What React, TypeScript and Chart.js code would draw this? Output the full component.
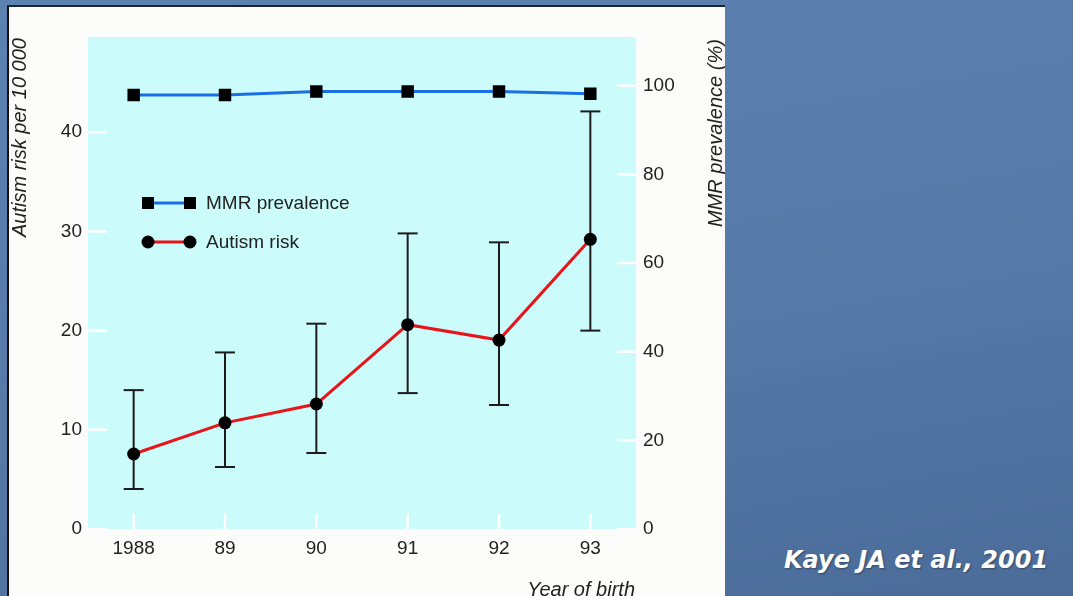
import React, { useEffect, useRef } from "react";
import { Chart, registerables } from "chart.js";

Chart.register(...registerables);

const years = ["1988", "89", "90", "91", "92", "93"];
const autismRisk = [7.56, 10.7, 12.6, 20.6, 19.05, 29.2];
const autismLower = [4.03, 6.25, 7.66, 13.7, 12.5, 20.0];
const autismUpper = [14.0, 17.8, 20.7, 29.8, 28.9, 42.1];
const mmrPrevalence = [97.9, 97.9, 98.7, 98.7, 98.7, 98.2];
const leftTicks = [0, 10, 20, 30, 40];
const rightTicks = [0, 20, 40, 60, 80, 100];

const FONT = "'Liberation Sans', Arial, Helvetica, sans-serif";
const TEXT = "#222222";

const decor = {
  id: "decor",
  beforeDatasetsDraw(chart: any) {
    const { ctx, chartArea: a, scales } = chart;
    const line = (x1: number, y1: number, x2: number, y2: number) => {
      ctx.beginPath();
      ctx.moveTo(x1, y1);
      ctx.lineTo(x2, y2);
      ctx.stroke();
    };
    ctx.save();
    ctx.fillStyle = "#cbfbfb";
    ctx.fillRect(a.left, a.top, a.right - a.left, a.bottom - a.top);
    ctx.strokeStyle = "#ffffff";
    ctx.lineWidth = 2.5;
    leftTicks.forEach((v) => {
      const y = scales.yL.getPixelForValue(v);
      line(a.left, y, a.left + 19, y);
    });
    rightTicks.forEach((v) => {
      const y = scales.yR.getPixelForValue(v);
      line(a.right - 19, y, a.right, y);
    });
    years.forEach((_, i) => {
      const x = scales.x.getPixelForValue(i);
      line(x, a.bottom - 15, x, a.bottom);
    });
    ctx.strokeStyle = "#1c1c1c";
    ctx.lineWidth = 2;
    autismRisk.forEach((_, i) => {
      const x = scales.x.getPixelForValue(i);
      const yT = scales.yL.getPixelForValue(autismUpper[i]);
      const yB = scales.yL.getPixelForValue(autismLower[i]);
      line(x, yT, x, yB);
      line(x - 10, yT, x + 10, yT);
      line(x - 10, yB, x + 10, yB);
    });
    ctx.restore();
  },
  afterDraw(chart: any) {
    const { ctx, chartArea: a } = chart;
    ctx.save();
    // legend
    const lx1 = a.left + 60;
    const lx2 = a.left + 102;
    const ly1 = a.top + 166;
    const ly2 = a.top + 205;
    ctx.lineWidth = 3;
    ctx.strokeStyle = "#1a6fe6";
    ctx.beginPath();
    ctx.moveTo(lx1, ly1);
    ctx.lineTo(lx2, ly1);
    ctx.stroke();
    ctx.fillStyle = "#000";
    ctx.fillRect(lx1 - 6, ly1 - 6, 12, 12);
    ctx.fillRect(lx2 - 6, ly1 - 6, 12, 12);
    ctx.strokeStyle = "#e8141a";
    ctx.beginPath();
    ctx.moveTo(lx1, ly2);
    ctx.lineTo(lx2, ly2);
    ctx.stroke();
    ctx.beginPath();
    ctx.arc(lx1, ly2, 6.5, 0, Math.PI * 2);
    ctx.fill();
    ctx.beginPath();
    ctx.arc(lx2, ly2, 6.5, 0, Math.PI * 2);
    ctx.fill();
    ctx.fillStyle = TEXT;
    ctx.font = `19px ${FONT}`;
    ctx.textBaseline = "middle";
    ctx.textAlign = "left";
    ctx.fillText("MMR prevalence", a.left + 118, ly1 + 1);
    ctx.fillText("Autism risk", a.left + 118, ly2 + 1);
    // axis titles
    ctx.font = `italic 20px ${FONT}`;
    ctx.save();
    ctx.translate(11, 229);
    ctx.rotate(-Math.PI / 2);
    ctx.textAlign = "left";
    ctx.fillText("Autism risk per 10 000", 0, 0);
    ctx.restore();
    ctx.save();
    ctx.translate(707, 219);
    ctx.rotate(-Math.PI / 2);
    ctx.textAlign = "left";
    ctx.fillText("MMR prevalence (%)", 0, 0);
    ctx.restore();
    ctx.textAlign = "right";
    ctx.textBaseline = "alphabetic";
    ctx.fillText("Year of birth", a.right - 1, 588);
    ctx.restore();
  },
};

export default function App() {
  const ref = useRef<HTMLCanvasElement>(null);
  useEffect(() => {
    if (!ref.current) return;
    const tickFont = { family: FONT, size: 19 };
    const chart = new Chart(ref.current, {
      type: "line",
      data: {
        labels: years,
        datasets: [
          {
            label: "MMR prevalence",
            data: mmrPrevalence,
            yAxisID: "yR",
            borderColor: "#1a6fe6",
            borderWidth: 3,
            pointStyle: "rect",
            pointRadius: 8.8,
            pointBackgroundColor: "#000",
            pointBorderColor: "#000",
            pointBorderWidth: 0,
            tension: 0,
          },
          {
            label: "Autism risk",
            data: autismRisk,
            yAxisID: "yL",
            borderColor: "#e8141a",
            borderWidth: 3,
            pointStyle: "circle",
            pointRadius: 6.5,
            pointBackgroundColor: "#000",
            pointBorderColor: "#000",
            pointBorderWidth: 0,
            tension: 0,
          },
        ],
      },
      options: {
        responsive: false,
        animation: false,
        devicePixelRatio: 1,
        layout: { padding: { top: 29, left: 0, right: 0, bottom: 0 } },
        plugins: { legend: { display: false }, tooltip: { enabled: false } },
        scales: {
          x: {
            type: "category",
            offset: true,
            grid: { display: false, drawTicks: false },
            border: { display: false },
            ticks: { font: tickFont, color: TEXT, padding: 8, maxRotation: 0 },
            afterFit: (s: any) => {
              s.height = 67;
            },
          },
          yL: {
            type: "linear",
            position: "left",
            min: 0,
            max: 49.6,
            grid: { display: false, drawTicks: false },
            border: { display: false },
            ticks: { font: tickFont, color: TEXT, padding: 6 },
            afterBuildTicks: (s: any) => {
              s.ticks = leftTicks.map((v) => ({ value: v }));
            },
            afterFit: (s: any) => {
              s.width = 79;
            },
          },
          yR: {
            type: "linear",
            position: "right",
            min: 0,
            max: 111,
            grid: { display: false, drawTicks: false },
            border: { display: false },
            ticks: { font: tickFont, color: TEXT, padding: 7 },
            afterBuildTicks: (s: any) => {
              s.ticks = rightTicks.map((v) => ({ value: v }));
            },
            afterFit: (s: any) => {
              s.width = 89;
            },
          },
        },
      } as any,
      plugins: [decor],
    });
    return () => chart.destroy();
  }, []);

  return (
    <div
      style={{
        position: "fixed",
        left: 0,
        top: 0,
        width: 1073,
        height: 596,
        overflow: "hidden",
        background: "linear-gradient(170deg, #5c82b2 0%, #5679a8 55%, #4b6c99 100%)",
      }}
    >
      <div style={{ position: "absolute", left: 7, top: 5, width: 718, height: 2, background: "#1b2636" }} />
      <div style={{ position: "absolute", left: 7, top: 6, width: 2, height: 590, background: "#111" }} />
      <div
        style={{
          position: "absolute",
          left: 9,
          top: 7,
          width: 716,
          height: 589,
          background: "#fcfcfa",
        }}
      >
        <canvas ref={ref} width={716} height={588} style={{ display: "block", marginTop: 1 }} />
      </div>
      <div
        style={{
          position: "absolute",
          left: 784,
          top: 546,
          fontFamily: "'DejaVu Sans', Verdana, sans-serif",
          fontWeight: "bold",
          fontStyle: "italic",
          fontSize: 24,
          color: "#ffffff",
          whiteSpace: "nowrap",
          textShadow: "1px 1px 2px rgba(0,0,0,0.35)",
        }}
      >
        Kaye JA et al., 2001
      </div>
    </div>
  );
}
